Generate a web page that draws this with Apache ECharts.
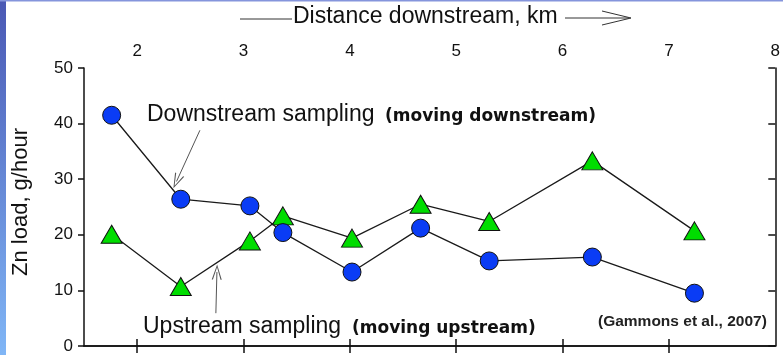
<!DOCTYPE html>
<html>
<head>
<meta charset="utf-8">
<script src="https://cdn.jsdelivr.net/npm/echarts@6/dist/echarts.min.js"></script>
<style>
  html, body { margin: 0; padding: 0; background: #ffffff; }
  #chart { width: 783px; height: 355px; }
</style>
</head>
<body>
<div id="chart"></div>
<script>
// Distance downstream (km) of each sampling station
const distanceKm = [1.76, 2.41, 3.06, 3.37, 4.02, 4.665, 5.31, 6.28, 7.24];
// Zn load, g/hour
const downstreamSampling = [41.5, 26.4, 25.2, 20.4, 13.3, 21.2, 15.3, 16.0, 9.5];
const upstreamSampling = [20.1, 10.7, 18.9, 23.4, 19.4, 25.5, 22.4, 33.3, 20.7];
// Axis ticks / labels
const xLabelValues = [2, 3, 4, 5, 6, 7, 8];
const xTickValues = [2, 3, 4, 5, 6, 7];
const xTitle = 'Distance downstream, km';
const yTitle = 'Zn load, g/hour';

const chart = echarts.init(document.getElementById('chart'), null, { renderer: 'canvas' });

const pair = (ys) => distanceKm.map((x, i) => [x, ys[i]]);
const chevron = 'path://M5,0 L10,14 L8.8,14 L5,2.6 L1.2,14 L0,14 Z';
const axisLine = { show: true, lineStyle: { color: '#111', width: 1.5 } };
const textFont = '"Liberation Sans", Arial, sans-serif';

const option = {
  backgroundColor: '#ffffff',
  animation: false,
  grid: { left: 84, top: 68, right: 2, bottom: 9, containLabel: false },
  xAxis: [
    {
      type: 'value', position: 'top', min: 1.5, max: 8,
      axisLine: axisLine,
      axisTick: { show: true, inside: true, length: 7, customValues: xTickValues, lineStyle: { color: '#111', width: 1.5 } },
      axisLabel: { show: true, customValues: xLabelValues, margin: 8, fontSize: 17, color: '#111', fontFamily: textFont },
      splitLine: { show: false }
    },
    {
      type: 'value', position: 'bottom', min: 1.5, max: 8,
      axisLine: axisLine,
      axisTick: { show: true, inside: true, length: 7, customValues: xTickValues, lineStyle: { color: '#111', width: 1.5 } },
      axisLabel: { show: false },
      splitLine: { show: false }
    }
  ],
  yAxis: [
    {
      type: 'value', position: 'left', min: 0, max: 50, interval: 10,
      axisLine: axisLine,
      axisTick: { show: true, inside: false, length: 6, lineStyle: { color: '#111', width: 1.5 } },
      axisLabel: { show: true, margin: 11, fontSize: 17, color: '#111', fontFamily: textFont },
      splitLine: { show: false }
    },
    {
      type: 'value', position: 'right', min: 0, max: 50, interval: 10,
      axisLine: axisLine,
      axisTick: { show: true, inside: true, length: 7, lineStyle: { color: '#111', width: 1.5 } },
      axisLabel: { show: false },
      splitLine: { show: false }
    }
  ],
  series: [
    {
      name: 'Upstream sampling', type: 'line', xAxisIndex: 0, yAxisIndex: 0,
      data: pair(upstreamSampling),
      symbol: 'triangle', symbolSize: [21, 18],
      lineStyle: { color: '#1a1a1a', width: 1.3 },
      itemStyle: { color: '#00dd00', borderColor: '#111', borderWidth: 1 },
      z: 3,
      markLine: {
        silent: true, animation: false,
        symbol: ['none', chevron], symbolSize: [10, 15],
        label: { show: false },
        lineStyle: { color: '#555', width: 1, type: 'solid' },
        emphasis: { disabled: true },
        data: [[{ coord: [2.74, 5.9] }, { coord: [2.75, 13.3] }]]
      }
    },
    {
      name: 'Downstream sampling', type: 'line', xAxisIndex: 0, yAxisIndex: 0,
      data: pair(downstreamSampling),
      symbol: 'circle', symbolSize: 18,
      lineStyle: { color: '#1a1a1a', width: 1.3 },
      itemStyle: { color: '#0a3cf5', borderColor: '#111', borderWidth: 1 },
      z: 4,
      markLine: {
        silent: true, animation: false,
        symbol: ['none', chevron], symbolSize: [10, 15],
        label: { show: false },
        lineStyle: { color: '#555', width: 1, type: 'solid' },
        emphasis: { disabled: true },
        data: [[{ coord: [2.59, 38.8] }, { coord: [2.37, 29.6] }]]
      }
    }
  ],
  graphic: [
    // slide background decoration
    {
      type: 'rect', z: -10, silent: true,
      shape: { x: 0, y: 0, width: 6, height: 355 },
      style: { fill: new echarts.graphic.LinearGradient(0, 0, 0, 1, [
        { offset: 0, color: '#4a58b4' }, { offset: 1, color: '#80b6f6' }
      ]) }
    },
    {
      type: 'rect', z: -10, silent: true,
      shape: { x: 0, y: 0, width: 783, height: 1.5 },
      style: { fill: '#8595dc' }
    },
    // x title with arrow decorations
    {
      type: 'text', silent: true,
      style: { x: 293, y: 17, text: xTitle, font: '23px ' + textFont, fill: '#111', textAlign: 'left', textVerticalAlign: 'middle' }
    },
    {
      type: 'line', silent: true,
      shape: { x1: 240, y1: 19, x2: 292, y2: 19 },
      style: { stroke: '#333', lineWidth: 1 }
    },
    {
      type: 'polyline', silent: true,
      shape: { points: [[565, 18], [629, 18]] },
      style: { stroke: '#333', lineWidth: 1, fill: null }
    },
    {
      type: 'polyline', silent: true,
      shape: { points: [[602, 11], [631, 18], [602, 25]] },
      style: { stroke: '#333', lineWidth: 1, fill: null }
    },
    // y title
    {
      type: 'text', silent: true, x: 21, y: 202, rotation: Math.PI / 2,
      style: { x: 0, y: 0, text: yTitle, font: '22px ' + textFont, fill: '#111', textAlign: 'center', textVerticalAlign: 'middle' }
    },
    // annotations
    {
      type: 'text', silent: true,
      style: { x: 147, y: 115, text: 'Downstream sampling', font: '23px ' + textFont, fill: '#111', textAlign: 'left', textVerticalAlign: 'middle' }
    },
    {
      type: 'text', silent: true,
      style: { x: 385, y: 117, text: '(moving downstream)', font: 'bold 17px "DejaVu Sans", sans-serif', fill: '#111', textAlign: 'left', textVerticalAlign: 'middle' }
    },
    {
      type: 'text', silent: true,
      style: { x: 143, y: 327, text: 'Upstream sampling', font: '23px ' + textFont, fill: '#111', textAlign: 'left', textVerticalAlign: 'middle' }
    },
    {
      type: 'text', silent: true,
      style: { x: 352, y: 329, text: '(moving upstream)', font: 'bold 17px "DejaVu Sans", sans-serif', fill: '#111', textAlign: 'left', textVerticalAlign: 'middle' }
    },
    {
      type: 'text', silent: true,
      style: { x: 598, y: 322, text: '(Gammons et al., 2007)', font: 'bold 15.5px ' + textFont, fill: '#222', textAlign: 'left', textVerticalAlign: 'middle' }
    }
  ]
};

chart.setOption(option);
</script>
</body>
</html>
